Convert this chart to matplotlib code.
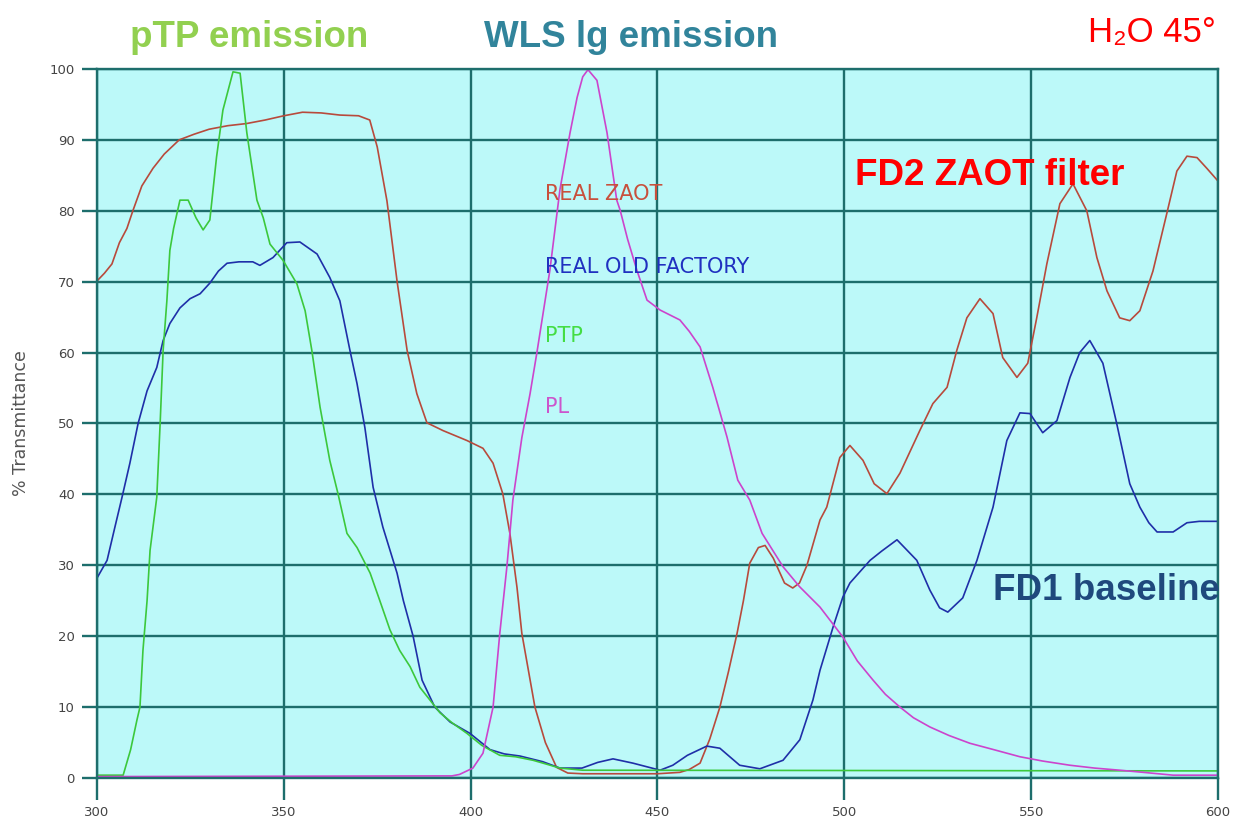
import matplotlib
matplotlib.use("Agg")
import matplotlib.pyplot as plt
import numpy as np

# wavelength (nm) / transmittance (%) for each curve
zaot_wl = [300, 302, 304, 306, 308, 309.6, 312, 315, 318, 322, 326, 330, 335, 340, 345, 350,
           355, 360, 365, 370, 373, 375, 377.6, 380.3, 383, 385.6, 388.3, 392.6, 399, 403.3,
           406, 408.6, 410.5, 412.4, 413.7, 417.2, 420, 423, 426, 430, 440, 450, 456, 458.5,
           461.4, 464, 466.7, 469, 471.3, 473, 474.7, 477, 478.8, 481, 484, 486.2, 488, 490,
           493.5, 495.3, 498.8, 501.5, 505, 508, 511.4, 514.9, 520.2, 523.7, 527.5, 530.1,
           532.8, 536.3, 539.8, 542.4, 546.2, 549.1, 551.5, 554.2, 557.7, 561.2, 564.9, 567.6,
           570.3, 573.7, 576.4, 579.1, 582.6, 586.3, 589, 591.7, 594.4, 597, 600]
zaot_t = [70.1, 71.2, 72.5, 75.5, 77.5, 80, 83.5, 86, 88, 90, 90.8, 91.5, 92, 92.3, 92.8, 93.4,
          93.9, 93.8, 93.5, 93.4, 92.8, 89, 81.4, 70.1, 60.3, 54.2, 50.1, 49, 47.6, 46.5,
          44.4, 40.1, 34.5, 26.9, 20.4, 10, 5, 1.5, 0.7, 0.6, 0.6, 0.6, 0.8, 1.2,
          2.1, 5.5, 10, 15, 20.4, 25, 30.3, 32.5, 32.8, 31, 27.5, 26.8, 27.5, 30,
          36.4, 38.2, 45.2, 46.9, 44.8, 41.5, 40.1, 43, 49, 52.8, 55.1, 60.3,
          64.9, 67.6, 65.5, 59.3, 56.5, 58.5, 64.9, 72.5, 81, 83.8, 80, 73.4,
          68.7, 64.9, 64.5, 65.9, 71.5, 79.6, 85.6, 87.7, 87.5, 86, 84.2]

factory_wl = [300, 302.7, 304.8, 306.7, 308.8, 311, 313.4, 316, 317.7, 319.5, 322.2, 324.9,
              327.6, 330.2, 332.5, 334.8, 338, 341.7, 343.6, 347.1, 350.8, 354.3, 358.9, 362.3,
              365, 367.7, 369.6, 371.7, 373.9, 376.5, 380.3, 382, 384.6, 387, 390.4, 394.5,
              399.8, 405.2, 409, 413.2, 419.3, 423.9, 429.8, 434, 438.1, 443.4, 450.7, 454.1,
              458, 463.2, 466.7, 472, 477.4, 483.6, 488.1, 491.6, 493.5, 497, 499.6, 501.5,
              506.9, 510, 514.1, 519.4, 522.9, 525.5, 527.7, 531.7, 535.5, 539.8, 543.5, 547,
              549.7, 553.1, 556.9, 560.4, 563, 565.7, 569.2, 572.9, 576.4, 579.1, 581.5, 583.7,
              588, 591.7, 595, 600]
factory_t = [28.2, 30.7, 35.4, 39.6, 44.4, 50, 54.6, 57.9, 61.7, 64.1, 66.3, 67.6,
             68.3, 69.8, 71.5, 72.6, 72.8, 72.8, 72.3, 73.4, 75.5, 75.6, 73.9, 70.6,
             67.3, 60.3, 55.6, 49.4, 41, 35.4, 28.9, 25, 20, 13.8, 10, 7.9,
             6.3, 4, 3.4, 3.1, 2.3, 1.4, 1.4, 2.2, 2.7, 2.1, 1.1, 1.8,
             3.2, 4.5, 4.2, 1.8, 1.3, 2.5, 5.4, 11, 15.2, 21.3, 25.5, 27.5,
             30.7, 32, 33.6, 30.7, 26.5, 24, 23.4, 25.4, 30.7, 38.2, 47.6, 51.5,
             51.4, 48.7, 50.4, 56.5, 60, 61.7, 58.5, 50, 41.5, 38.2, 36, 34.7,
             34.7, 36, 36.2, 36.2]

ptp_wl = [300, 307, 309, 310.7, 311.5, 312.3, 313.4, 314.2, 316, 316.9, 317.7, 318.7, 319.5,
          320.5, 322.2, 324.4, 326.5, 328.4, 330.2, 332, 333.7, 336.4, 338.3, 340.1, 342.8,
          344.5, 346.3, 349.8, 353.5, 355.7, 357.5, 359.7, 362.3, 364.5, 366.9, 369.6, 373.1,
          375.7, 378.4, 381, 383.8, 386.4, 391.8, 395, 399, 403, 407.8, 412, 416.7, 420,
          423.9, 430, 600]
ptp_t = [0.4, 0.4, 4, 8.2, 10, 18, 25, 32.1, 39.6, 50, 60.3, 67.3, 74.4,
         77.5, 81.5, 81.5, 79, 77.3, 78.7, 87.6, 94.2, 99.6, 99.4, 91, 81.5,
         79, 75.3, 73, 69.7, 65.9, 60.3, 52.3, 44.8, 40.1, 34.5, 32.5, 28.9,
         25, 20.9, 18, 15.7, 12.8, 9.2, 7.8, 6.3, 4.6, 3.2, 3, 2.5, 2,
         1.4, 1.1, 1.0]

pl_wl = [300, 395, 397, 400.6, 403.3, 406, 407.8, 409.7, 411.3, 413.7, 415.9, 417.7, 421.2,
         423.9, 426.6, 428.5, 430, 431.4, 433.8, 436.5, 439.1, 440, 442, 444.5, 447.2, 450.7,
         456, 458.5, 461.4, 464.8, 468.6, 471.5, 474.7, 478, 483.6, 488, 493.5, 499.6, 503.5,
         507.7, 511, 514.9, 518.5, 522.9, 528, 533.6, 540, 547, 553, 560.4, 567, 573.7, 580,
         588, 600]
pl_t = [0.2, 0.3, 0.5, 1.4, 3.5, 10, 20.4, 29.8, 39.2, 48, 54.2, 59.9, 71.6,
        83, 91, 96, 98.9, 99.9, 98.4, 91, 81.5, 80.1, 76, 71.6, 67.4, 66,
        64.6, 63, 60.8, 55.1, 48.1, 42, 39.2, 34.5, 29.8, 27, 24.1, 19.9, 16.5,
        13.8, 11.8, 10, 8.5, 7.2, 6, 4.9, 4, 3, 2.4, 1.8, 1.4, 1.1, 0.8,
        0.4, 0.4]

x_ticks = [300, 350, 400, 450, 500, 550, 600]
y_ticks = list(range(0, 101, 10))

grid_col = "#1d6e6c"

fig = plt.figure(figsize=(12.34, 8.26), dpi=100)
ax = fig.add_axes([0.0786, 0.0581, 0.9084, 0.8584])
ax.set_facecolor("#bcf9f9")

ax.plot(zaot_wl, zaot_t, color="#b84a3c", lw=1.2)
ax.plot(factory_wl, factory_t, color="#1f2fa8", lw=1.2)
ax.plot(ptp_wl, ptp_t, color="#3cc83c", lw=1.2)
ax.plot(pl_wl, pl_t, color="#cc44cc", lw=1.2)

ax.set_xlim(300, 600)
ax.set_ylim(0, 100)
ax.set_xticks(x_ticks)
ax.set_yticks(y_ticks)
ax.grid(True, color=grid_col, lw=1.7)
ax.set_axisbelow(True)
for s in ax.spines.values():
    s.set_color(grid_col)
    s.set_linewidth(1.7)
ax.tick_params(axis="y", direction="out", length=11, width=1.7, color=grid_col,
               labelsize=9.5, labelcolor="#444444", pad=5)
ax.tick_params(axis="x", direction="out", length=16, width=1.7, color=grid_col,
               labelsize=9.5, labelcolor="#444444", pad=4)
ax.set_ylabel("% Transmittance", fontsize=12.5, color="#555555", labelpad=14)

# curve names inside the plot
lab = dict(fontsize=15, va="baseline", ha="left")
ax.text(420, 81.5, "REAL ZAOT", color="#c8503c", **lab)
ax.text(420, 71.2, "REAL OLD FACTORY", color="#2030c0", **lab)
ax.text(420, 61.5, "PTP", color="#44dd44", **lab)
ax.text(420, 51.5, "PL", color="#cc55cc", **lab)

big = dict(fontsize=26.5, fontweight="bold", family="Liberation Sans", va="baseline", ha="left")
fig.text(130 / 1234, 1 - 47 / 826, "pTP emission", color="#92d050", **big)
fig.text(484 / 1234, 1 - 47 / 826, "WLS lg emission", color="#31849b", **big)
fig.text(855 / 1234, 1 - 185 / 826, "FD2 ZAOT filter", color="#ff0000", **big)
fig.text(993 / 1234, 1 - 600 / 826, "FD1 baseline", color="#1f497d", **big)
fig.text(1088 / 1234, 1 - 42 / 826, "H₂O 45°", color="#ff0000", fontsize=25,
         family=["Liberation Sans", "DejaVu Sans"], va="baseline", ha="left")

fig.savefig("out.png", dpi=100)
